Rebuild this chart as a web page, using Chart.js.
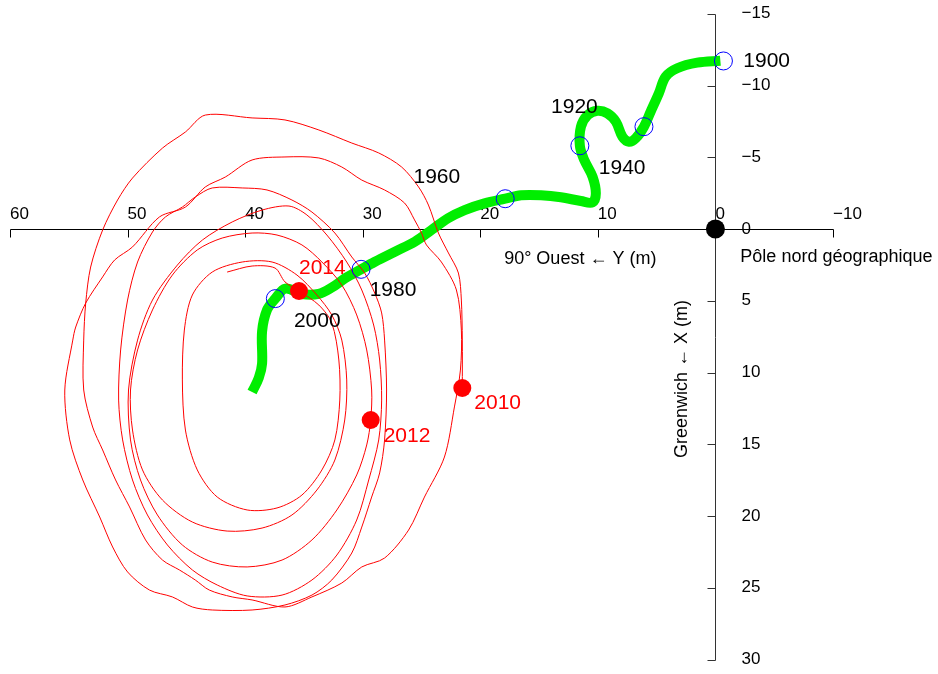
<!DOCTYPE html>
<html>
<head>
<meta charset="utf-8">
<title>Mouvement du pôle</title>
<script src="https://cdn.jsdelivr.net/npm/chart.js@4.4.1/dist/chart.umd.min.js"></script>
<style>
  html, body { margin: 0; padding: 0; background: #fff; }
  canvas { display: block; }
</style>
</head>
<body>
<canvas id="poleChart" width="938" height="674"></canvas>
<script>
// Y = vers 90° Ouest (m), X = vers Greenwich (m)

// dérive séculaire du pôle moyen, 1900 -> 2014
const driftY = [-0.42, 1.55, 3.25, 4.24, 4.81, 5.51, 6.08, 6.78, 7.35, 7.91, 8.47, 9.18, 10.03, 10.87, 11.44,
  11.53, 11.16, 10.45, 10.17, 10.45, 11.44, 13.14, 14.83, 16.53, 17.88, 19.64, 21.33, 22.74, 24.15, 25.57,
  27.26, 28.96, 30.14, 31.50, 32.63, 33.75, 35.17, 36.58, 37.43, 38.14, 38.56, 38.56, 38.84, 39.41];
const driftX = [-11.73, -11.59, -11.20, -10.61, -9.46, -8.18, -7.13, -6.32, -6.08, -6.43, -7.48, -8.06, -8.24, -7.94, -7.13,
  -5.80, -4.81, -3.64, -2.49, -1.86, -1.95, -2.21, -2.35, -2.35, -2.11, -1.79, -1.32, -0.75, 0.07, 0.89,
  1.58, 2.28, 2.81, 3.44, 4.08, 4.52, 4.53, 4.15, 4.85, 5.64, 7.14, 9.38, 10.38, 11.36];

// repères tous les 20 ans sur la dérive
const decadeYears = ['1900', '1920', '1940', '1960', '1980', '2000'];
const decadeY = [-0.68, 6.08, 11.53, 17.88, 30.14, 37.43];
const decadeX = [-11.71, -7.13, -5.80, -2.11, 2.81, 4.85];

// oscillation (Chandler + annuelle) 2010 -> 2014
const wobbleY = [
  21.53, 21.53, 21.61, 21.86, 22.71, 23.56, 24.41, 25.25, 26.69, 28.64,
  30.93, 33.73, 36.61, 39.41, 43.39, 45.08, 47.03, 49.58, 50.85, 52.12,
  53.14, 53.56, 53.73, 53.73, 52.97, 52.12, 51.02, 49.83, 48.47, 47.03,
  45.59, 44.24, 43.05, 41.10, 39.41, 36.61, 34.32, 31.78, 30.08, 28.14,
  26.10, 24.75, 23.05, 22.20, 21.69,
  21.61, 22.03, 23.31, 24.58, 25.00, 25.59, 26.44, 28.14, 30.08, 31.78,
  33.73, 36.61, 39.41, 41.69, 43.39, 45.08, 47.29, 49.58, 51.10, 52.12,
  53.56, 54.41, 54.66, 55.34, 54.92, 53.81, 52.37, 51.27, 50.00, 48.14,
  46.19, 44.49, 42.80, 39.41, 36.61, 34.32, 32.63, 30.93, 30.08, 29.24,
  28.56, 28.14, 27.97, 28.14,
  28.39, 28.98, 29.83, 30.93, 32.37, 34.32, 36.02, 38.14, 40.25, 42.80,
  44.24, 45.34, 46.78, 47.88, 49.15, 50.00, 50.59, 50.76, 50.42, 49.58,
  48.31, 46.61, 44.49, 42.37, 39.83, 36.86, 34.32, 32.20, 30.51, 29.49,
  28.64, 28.39, 28.56,
  29.07, 30.08, 31.36, 33.05, 34.75, 36.27, 38.56, 41.10, 43.64, 45.76,
  47.88, 49.15, 49.92, 49.75, 48.90, 47.46, 45.34, 42.80, 39.83, 36.86,
  34.32, 32.20, 30.51, 29.66, 29.32, 29.24, 29.66, 30.51, 31.78, 33.47,
  35.17, 37.29, 39.41,
  41.95, 44.07, 46.19, 47.88, 49.15, 49.75, 49.58, 48.73, 47.03, 44.49,
  41.53, 38.56, 36.02, 33.90, 32.37, 31.53, 31.36, 31.78, 32.63, 33.90,
  35.59, 37.71, 40.25, 42.80, 44.49, 45.17, 45.34, 45.08, 44.07, 42.37,
  39.83, 37.29, 35.17, 33.47, 32.37, 31.95, 32.03, 32.63, 33.73, 35.42,
  36.61, 37.46, 39.41, 41.53];
const wobbleX = [
  11.08, 7.74, 4.95, 3.07, 1.67, 0.28, -1.67, -2.93, -4.32, -5.30,
  -5.99, -6.90, -7.60, -7.74, -7.94, -6.76, -5.64, -3.55, -2.02, 0.07,
  2.65, 5.16, 7.74, 11.22, 13.80, 15.40, 17.49, 19.37, 21.67, 23.07,
  23.76, 24.46, 25.16, 25.64, 25.85, 26.34, 25.64, 24.67, 23.55, 22.93,
  20.98, 18.68, 15.89, 12.40, 9.83,
  7.04, 4.25, 2.30, 1.11, 0.28, -0.63, -1.81, -2.72, -3.41, -4.32,
  -4.95, -5.02, -4.81, -3.62, -2.93, -1.53, -0.84, 1.25, 2.16, 3.34,
  5.16, 6.83, 7.74, 11.22, 14.70, 17.49, 20.07, 22.16, 23.90, 25.16,
  25.64, 26.34, 26.55, 26.55, 26.20, 25.51, 24.46, 22.58, 20.77, 18.68,
  17.00, 14.70, 11.22, 7.74,
  5.85, 4.46, 3.07, 1.95, 0.28, -1.18, -2.02, -2.72, -2.86, -2.86,
  -2.23, -1.53, -0.84, 0.21, 2.30, 4.95, 8.43, 11.92, 14.70, 17.49,
  19.93, 22.02, 23.76, 24.81, 25.57, 25.51, 24.46, 22.72, 20.28, 17.49,
  14.70, 11.92, 9.13,
  6.69, 4.25, 2.30, 0.42, -0.98, -1.60, -1.32, -0.49, 0.77, 2.51,
  4.95, 7.74, 11.22, 14.70, 17.49, 19.93, 22.02, 23.21, 23.55, 23.07,
  21.67, 19.58, 17.14, 15.05, 13.31, 11.22, 8.43, 5.99, 3.90, 2.30,
  1.11, 0.42, 0.28,
  0.63, 1.46, 3.21, 5.64, 8.43, 11.22, 14.01, 16.79, 18.89, 20.42,
  21.05, 20.84, 19.93, 18.19, 16.10, 13.31, 10.52, 7.74, 5.99, 4.60,
  3.21, 2.30, 2.30, 3.00, 4.60, 7.04, 10.52, 14.01, 16.79, 18.68,
  19.58, 19.44, 18.54, 16.79, 14.70, 11.92, 9.13, 6.55, 5.30, 4.32,
  3.69, 2.72, 2.58, 3.00];

// positions du pôle au début des années marquées en rouge
const recentYears = ['2010', '2012', '2014'];
const recentY = [21.53, 29.32, 35.42];
const recentX = [11.08, 13.31, 4.32];

// graduations
const yTicks = [60, 50, 40, 30, 20, 10, 0, -10];
const xTicks = [-15, -10, -5, 0, 5, 10, 15, 20, 25, 30];

// ancrage des étiquettes (bord gauche, milieu)
const decadeLabelY = [-2.37, 13.98, 9.92, 25.68, 29.41, 35.85];
const decadeLabelX = [-11.66, -8.52, -4.25, -3.64, 4.25, 6.46];
const recentLabelY = [20.51, 28.22, 35.42];
const recentLabelX = [12.13, 14.43, 2.74];

const FONT = '"Liberation Sans", Arial, Helvetica, sans-serif';

function pts(ys, xs) {
  return ys.map((v, i) => ({ x: v, y: xs[i] }));
}

function fmt(v) {
  return v < 0 ? '\u2212' + Math.abs(v) : String(v);
}

// axes croisés à l'origine + textes
const poleAxes = {
  id: 'poleAxes',
  beforeDatasetsDraw(chart) {
    const { ctx, scales: { x, y } } = chart;
    const ox = Math.round(x.getPixelForValue(0)) + 0.5;
    const oy = Math.round(y.getPixelForValue(0)) + 0.5;
    ctx.save();
    ctx.lineWidth = 1;

    // axe horizontal (Y)
    ctx.strokeStyle = '#000';
    ctx.beginPath();
    ctx.moveTo(Math.round(x.getPixelForValue(yTicks[0])) + 0.5, oy);
    ctx.lineTo(Math.round(x.getPixelForValue(yTicks[yTicks.length - 1])) + 0.5, oy);
    yTicks.forEach(v => {
      const px = Math.round(x.getPixelForValue(v)) + 0.5;
      ctx.moveTo(px, oy);
      ctx.lineTo(px, oy + 8);
    });
    ctx.stroke();

    // axe vertical (X)
    ctx.strokeStyle = '#333';
    ctx.beginPath();
    ctx.moveTo(ox, Math.round(y.getPixelForValue(xTicks[0])) + 0.5);
    ctx.lineTo(ox, Math.round(y.getPixelForValue(xTicks[xTicks.length - 1])) + 0.5);
    xTicks.forEach(v => {
      const py = Math.round(y.getPixelForValue(v)) + 0.5;
      ctx.moveTo(ox - 8, py);
      ctx.lineTo(ox, py);
    });
    ctx.stroke();

    ctx.fillStyle = '#000';
    ctx.font = '17px ' + FONT;
    ctx.textAlign = 'left';
    ctx.textBaseline = 'middle';
    yTicks.forEach(v => {
      ctx.fillText(fmt(v), x.getPixelForValue(v), oy - 15);
    });
    xTicks.forEach(v => {
      ctx.fillText(fmt(v), ox + 26, y.getPixelForValue(v));
    });

    // titres des axes
    ctx.font = '18px ' + FONT;
    ctx.fillText('90\u00b0 Ouest \u2190 Y (m)', x.getPixelForValue(17.97), y.getPixelForValue(2.09));
    ctx.fillText('P\u00f4le nord g\u00e9ographique', x.getPixelForValue(-2.12), y.getPixelForValue(1.95));
    ctx.save();
    ctx.translate(x.getPixelForValue(2.88), y.getPixelForValue(10.45));
    ctx.rotate(-Math.PI / 2);
    ctx.textAlign = 'center';
    ctx.fillText('Greenwich \u2190 X (m)', 0, 0);
    ctx.restore();

    ctx.restore();
  },
  afterDatasetsDraw(chart) {
    const { ctx, scales: { x, y } } = chart;
    ctx.save();
    ctx.font = '21px ' + FONT;
    ctx.textAlign = 'left';
    ctx.textBaseline = 'middle';
    ctx.fillStyle = '#000';
    decadeYears.forEach((t, i) => {
      ctx.fillText(t, x.getPixelForValue(decadeLabelY[i]), y.getPixelForValue(decadeLabelX[i]));
    });
    ctx.fillStyle = '#ff0000';
    recentYears.forEach((t, i) => {
      ctx.fillText(t, x.getPixelForValue(recentLabelY[i]), y.getPixelForValue(recentLabelX[i]));
    });
    ctx.restore();
  }
};

new Chart(document.getElementById('poleChart'), {
  type: 'scatter',
  data: {
    datasets: [
      {
        label: 'Pôle nord géographique',
        data: [{ x: 0, y: 0 }],
        pointRadius: 9.5,
        backgroundColor: '#000',
        borderWidth: 0,
        order: 0
      },
      {
        label: 'Années récentes',
        data: pts(recentY, recentX),
        pointRadius: 9,
        backgroundColor: '#ff0000',
        borderWidth: 0,
        order: 0
      },
      {
        label: 'Décennies',
        data: pts(decadeY, decadeX),
        pointRadius: 9,
        backgroundColor: 'rgba(0,0,0,0)',
        borderColor: '#0000ff',
        borderWidth: 1,
        order: 1
      },
      {
        label: 'Oscillation 2010-2014',
        data: pts(wobbleY, wobbleX),
        showLine: true,
        pointRadius: 0,
        borderColor: '#ff0000',
        borderWidth: 1,
        tension: 0.3,
        order: 2
      },
      {
        label: 'Dérive 1900-2014',
        data: pts(driftY, driftX),
        showLine: true,
        pointRadius: 0,
        borderColor: '#00ee00',
        borderWidth: 10,
        borderCapStyle: 'butt',
        borderJoinStyle: 'round',
        tension: 0.35,
        order: 3
      }
    ]
  },
  options: {
    responsive: false,
    animation: false,
    devicePixelRatio: 1,
    clip: false,
    layout: {
      padding: { left: 7, right: 105, top: 13.75, bottom: 14.5 }
    },
    plugins: {
      legend: { display: false },
      tooltip: { enabled: false }
    },
    scales: {
      x: { type: 'linear', min: -10, max: 60, reverse: true, display: false },
      y: { type: 'linear', min: -15, max: 30, reverse: true, display: false }
    }
  },
  plugins: [poleAxes]
});
</script>
</body>
</html>
